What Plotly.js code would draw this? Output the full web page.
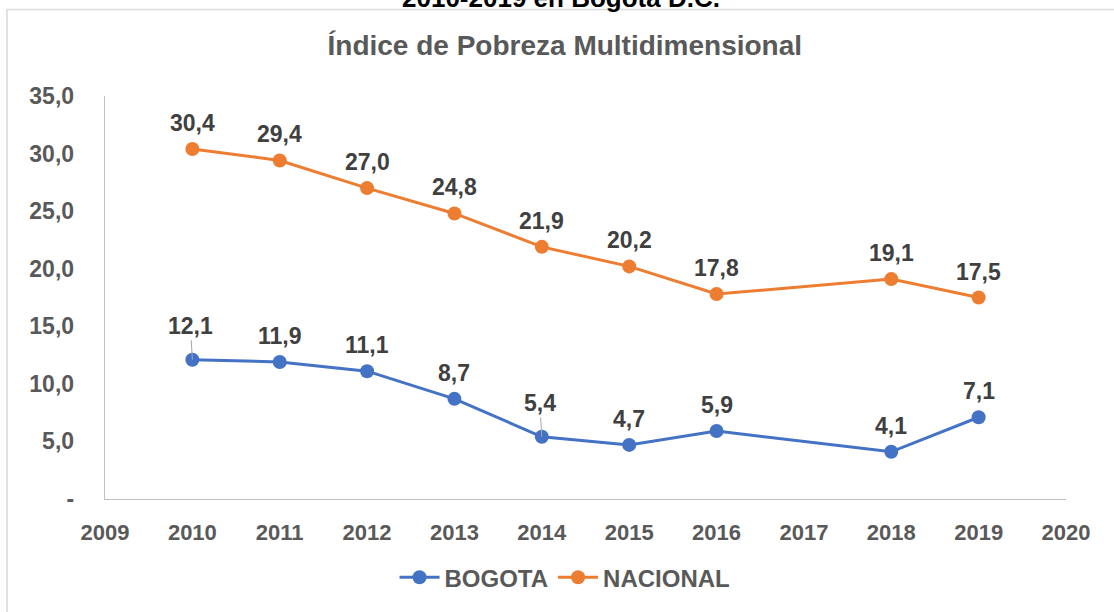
<!DOCTYPE html>
<html>
<head>
<meta charset="utf-8">
<script src="https://cdn.plot.ly/plotly-3.0.1.min.js"></script>
<style>html,body{margin:0;padding:0;background:#fff;}#chart{width:1114px;height:612px;}</style>
</head>
<body>
<div id="chart"></div>
<script>
// ---- data ----
const years = [2010, 2011, 2012, 2013, 2014, 2015, 2016, 2018, 2019];
const bogota = [12.1, 11.9, 11.1, 8.7, 5.4, 4.7, 5.9, 4.1, 7.1];
const nacional = [30.4, 29.4, 27.0, 24.8, 21.9, 20.2, 17.8, 19.1, 17.5];
const seriesNames = ['BOGOTA', 'NACIONAL'];
const xTickVals = [2009, 2010, 2011, 2012, 2013, 2014, 2015, 2016, 2017, 2018, 2019, 2020];
const yTickVals = [0, 5, 10, 15, 20, 25, 30, 35];
const yTickText = ['-', '5,0', '10,0', '15,0', '20,0', '25,0', '30,0', '35,0'];
const chartTitle = 'Índice de Pobreza Multidimensional';
const topCutTitle = '2010-2019 en Bogotá D.C.';
const bogotaLeaderIdx = [0, 4];

// ---- styles ----
const BLUE = '#4472C4', ORANGE = '#ED7D31';
const FONT = 'Liberation Sans, Arial, sans-serif';
const fmt = v => v.toFixed(1).replace('.', ',');

const traces = [
  {x: years, y: bogota, name: seriesNames[0], mode: 'lines+markers', type: 'scatter',
   line: {color: BLUE, width: 3}, marker: {color: BLUE, size: 14}},
  {x: years, y: nacional, name: seriesNames[1], mode: 'lines+markers', type: 'scatter',
   line: {color: ORANGE, width: 3}, marker: {color: ORANGE, size: 14}}
];

const labelFont = {family: FONT, size: 23, color: '#404040', weight: 'bold'};
const annotations = [];
function addLabels(vals, leaders) {
  vals.forEach((v, i) => {
    if (leaders.includes(i)) {
      annotations.push({x: years[i], y: v, xref: 'x', yref: 'y', text: '<b>' + fmt(v) + '</b>',
        showarrow: true, arrowhead: 0, arrowwidth: 1, arrowcolor: '#A6A6A6', ax: -2, ay: -34,
        font: labelFont, standoff: 0});
    } else {
      annotations.push({x: years[i], y: v, xref: 'x', yref: 'y', text: '<b>' + fmt(v) + '</b>',
        showarrow: false, yshift: 26, font: labelFont});
    }
  });
}
addLabels(bogota, bogotaLeaderIdx);
addLabels(nacional, []);

annotations.push({xref: 'paper', yref: 'paper', x: 0.474, y: 1.2432, yanchor: 'middle', xanchor: 'center',
  showarrow: false, text: '<b>' + topCutTitle + '</b>', font: {family: FONT, size: 26, color: '#000000'}});

const layout = {
  width: 1114, height: 612,
  margin: {l: 105, r: 48, t: 96, b: 111},
  paper_bgcolor: '#ffffff', plot_bgcolor: '#ffffff',
  showlegend: true,
  title: {text: '<b>' + chartTitle + '</b>', xref: 'container', yref: 'container',
    x: 0.507, y: 1 - 45 / 612, xanchor: 'center', yanchor: 'middle',
    font: {family: FONT, size: 28, color: '#595959'}},
  xaxis: {range: [2009, 2020], tickmode: 'array', tickvals: xTickVals, ticktext: xTickVals.map(String),
    showgrid: false, zeroline: false, showline: true, linecolor: '#BFBFBF', linewidth: 1.3,
    ticks: '', ticklabelstandoff: 13,
    tickfont: {family: FONT, size: 22, color: '#595959', weight: 'bold'}, fixedrange: true},
  yaxis: {range: [0, 35], tickmode: 'array', tickvals: yTickVals, ticktext: yTickText,
    showgrid: false, zeroline: false, showline: true, linecolor: '#BFBFBF', linewidth: 1.3,
    ticks: '', ticklabelstandoff: 25,
    tickfont: {family: FONT, size: 23, color: '#595959', weight: 'bold'}, fixedrange: true},
  legend: {orientation: 'h', x: 0.4787, xanchor: 'center', y: -0.195, yanchor: 'middle',
    font: {family: FONT, size: 24, color: '#595959', weight: 'bold'}, itemwidth: 40, traceorder: 'normal'},
  annotations: annotations,
  shapes: [
    {type: 'rect', xref: 'paper', yref: 'paper', x0: -0.102, x1: 1.12, y0: -0.3, y1: 1.2148,
     line: {color: '#D9D9D9', width: 1.5}, fillcolor: 'rgba(0,0,0,0)', layer: 'below'}
  ]
};

Plotly.newPlot('chart', traces, layout, {displayModeBar: false, staticPlot: true});
</script>
</body>
</html>
